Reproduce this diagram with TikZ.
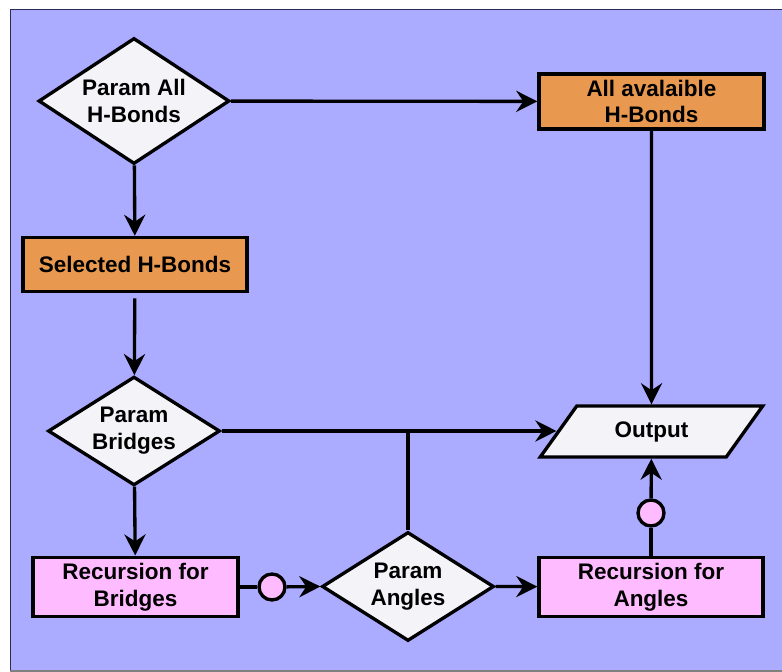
\documentclass[tikz,border=0pt]{standalone}
\usepackage{fontspec}
\setmainfont{Liberation Sans}
\usepackage{tikz}
\usetikzlibrary{arrows.meta,shapes.geometric}

\definecolor{bgblue}{HTML}{ABABFF}
\definecolor{boxorange}{HTML}{E8994F}
\definecolor{boxpink}{HTML}{FFBBFF}
\definecolor{paleface}{HTML}{F4F3F8}
\definecolor{framedark}{HTML}{2A2A55}

\begin{document}
\begin{tikzpicture}[x=0.02cm,y=-0.02cm]
 \tikzset{every node/.style = {font=\bfseries\fontsize{12.8}{15.3}\selectfont, text=black, align=center, line width=1.9pt}}
 \tikzset{decision/.style = {shape=diamond, draw, fill=paleface, aspect=1.5, inner sep=1pt}}
 \tikzset{block/.style = {shape=rectangle, draw, minimum height=1.08cm}}
 \tikzset{io/.style = {shape=trapezium, draw, fill=paleface, trapezium left angle=57, trapezium right angle=123, trapezium stretches=true}}
 \tikzset{dot/.style = {shape=circle, draw, fill=boxpink, minimum size=0.52cm, inner sep=0pt}}
 \tikzset{link/.style = {line width=1.9pt}}
 \tikzset{edge/.style = {link, ->, > = {Stealth[length=12pt, width=12pt, inset=4pt]}}}
 \useasboundingbox (0,0) rectangle (782,672);
 % background panel
 \fill[white] (0,0) rectangle (782,672);
 \fill[bgblue] (10,9) rectangle (800,671);
 \draw[framedark, line width=1pt] (800,9.5) -- (10.5,9.5) -- (10.5,671);
 \draw[gray, line width=1pt] (10,671) -- (800,671);

 % vertices
 \node[decision, minimum width=3.82cm, minimum height=2.52cm] (allhb) at (134,101) {Param All\\H-Bonds};
 \node[block, fill=boxorange, minimum width=4.5cm] (avail) at (651.5,101.5) {All avalaible\\H-Bonds};
 \node[block, fill=boxorange, minimum width=4.48cm] (selhb) at (135,264.5) {Selected H-Bonds};
 \node[decision, minimum width=3.44cm, minimum height=2.14cm] (bridges) at (134,431) {Param\\Bridges};
 \node[io, minimum width=4.46cm, minimum height=1.02cm] (output) at (651.5,431.5) {Output};
 \node[block, fill=boxpink, minimum width=4.1cm, minimum height=1.08cm] (recbr) at (135.5,587) {Recursion for\\Bridges};
 \node[decision, minimum width=3.44cm, minimum height=2.18cm] (angles) at (408,586.5) {Param\\Angles};
 \node[block, fill=boxpink, minimum width=4.48cm, minimum height=1.08cm] (recang) at (651,587) {Recursion for\\Angles};
 \node[dot] (dotbr) at (272,587) {};
 \node[dot] (dotang) at (651,513) {};
 \coordinate (join) at (408,431);

 %edges
 \draw[edge] (allhb) -- (avail);
 \draw[edge] (allhb) -- (selhb);
 \draw[edge, shorten <=3pt] (selhb) -- (bridges);
 \draw[edge] (avail) -- (output);
 \draw[edge] (bridges.east) -- (bridges.east -| output.west);
 \draw[link] (angles.north) -- (join);
 \draw[edge] (bridges) -- (recbr);
 \draw[link] (recbr) -- (dotbr);
 \draw[edge] (dotbr) -- (angles.west);
 \draw[edge] (angles.east) -- (recang);
 \draw[link] (recang) -- (dotang);
 \draw[edge] (dotang) -- (output);
\end{tikzpicture}
\end{document}
